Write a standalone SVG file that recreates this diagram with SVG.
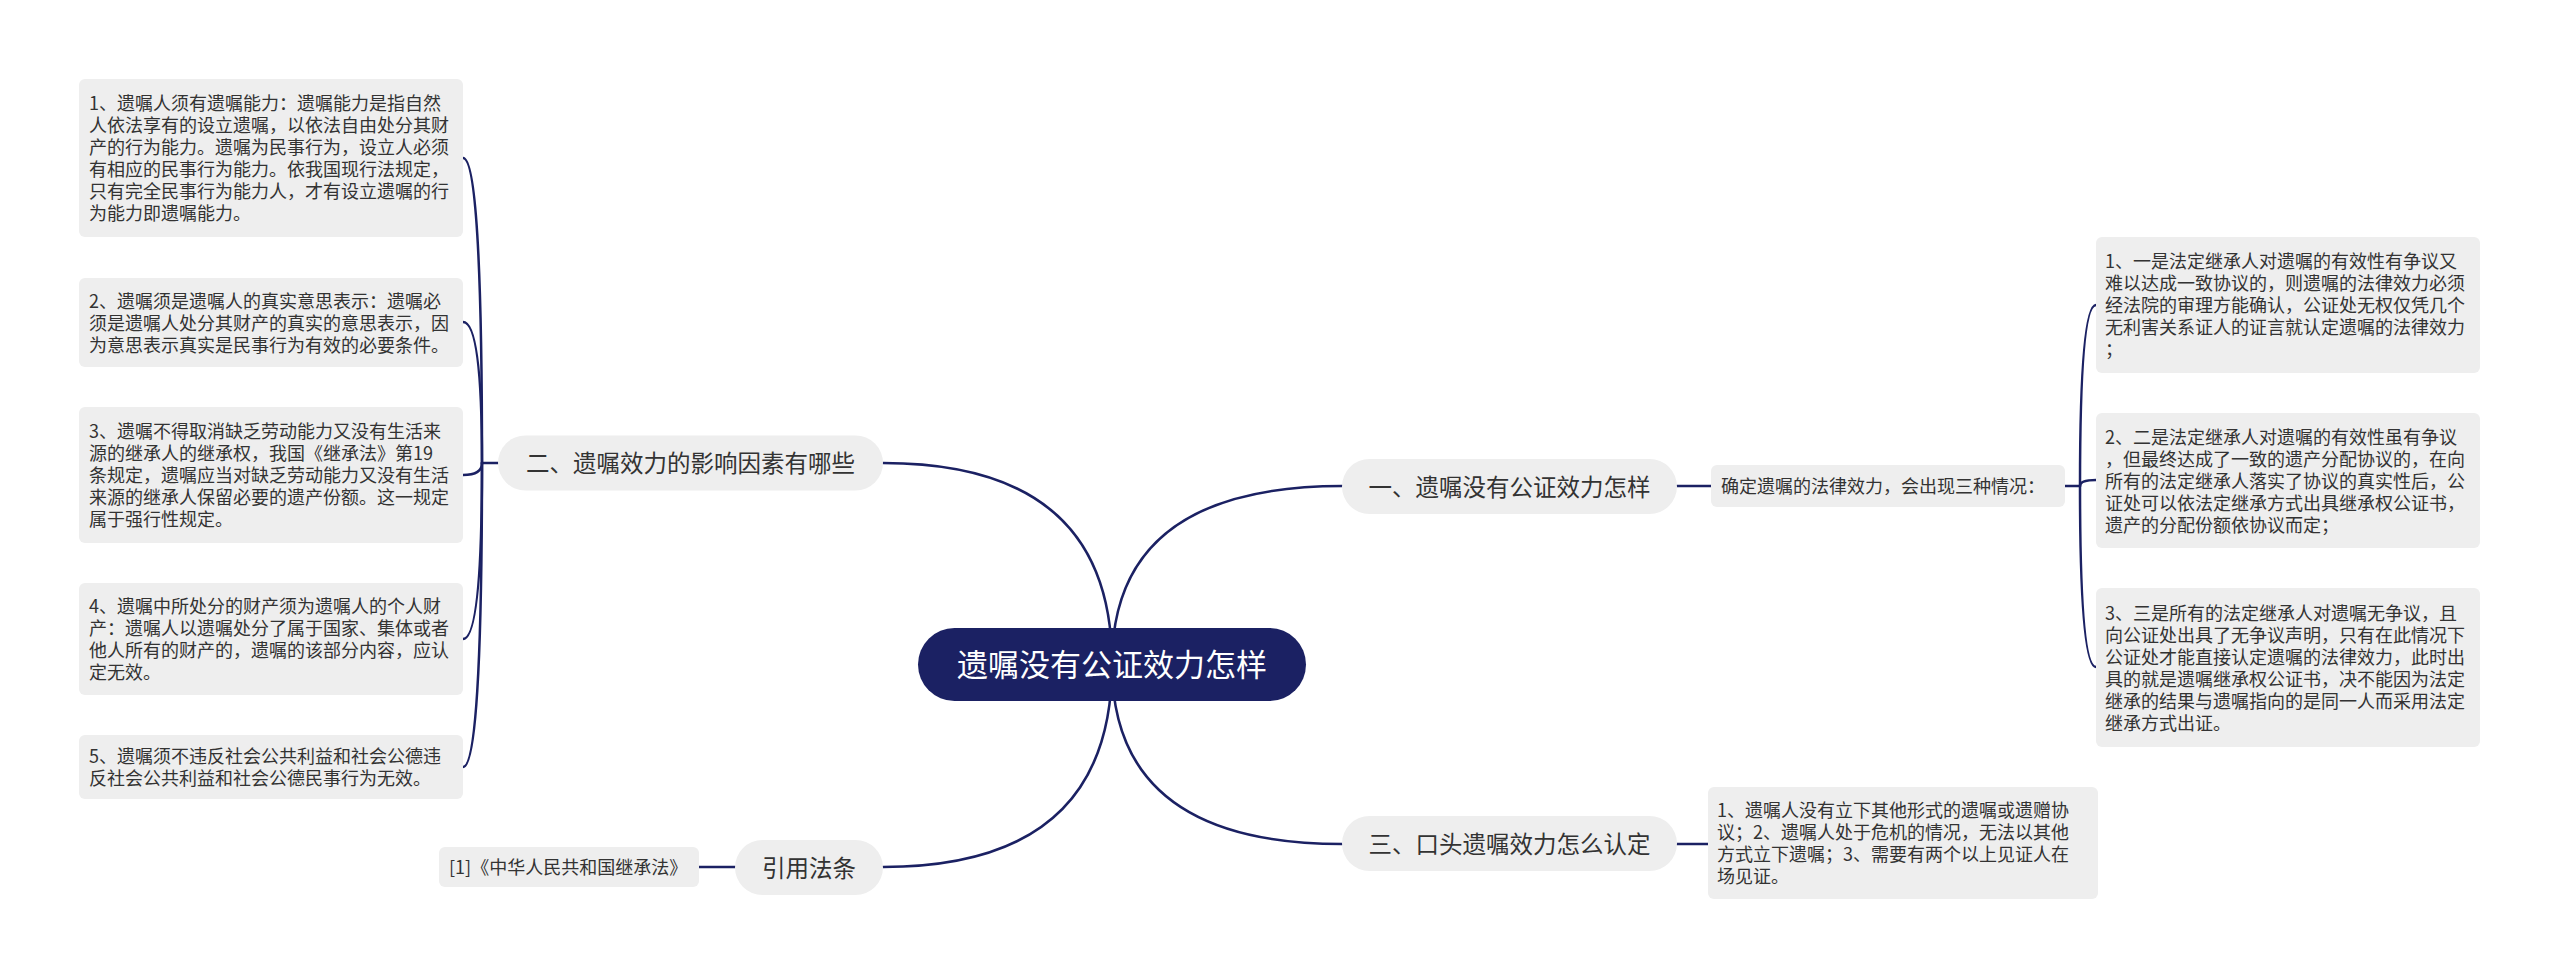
<svg xmlns="http://www.w3.org/2000/svg" width="2560" height="979" viewBox="0 0 2560 979">
<style>
.bg{fill:#ffffff}
.edge{fill:none;stroke:#1b2163;stroke-width:2.5;stroke-linecap:round}
.pill{fill:#eeeeee}
.box{fill:#eeeeee}
.root{fill:#1b2163}
.t{font-family:"Noto Sans CJK SC","Noto Sans",sans-serif;fill:#333333}
.tb{font-size:18px}
.tm{font-size:23.5px}
.tr{font-size:31px;fill:#ffffff}
</style>
<rect class="bg" x="0" y="0" width="2560" height="979"/>
<g id="connectors">
<path class="edge" d="M1112 664 Q1112 463 883 463"/>
<path class="edge" d="M1112 664 Q1112 486 1342 486"/>
<path class="edge" d="M1112 664 Q1112 844 1342 844"/>
<path class="edge" d="M1112 664 Q1112 867 883 867"/>
<path class="edge" d="M498 463 L482 463"/>
<path class="edge" d="M482 463 Q482 158 463 158"/>
<path class="edge" d="M482 463 Q482 322 463 322"/>
<path class="edge" d="M482 463 Q482 475 463 475"/>
<path class="edge" d="M482 463 Q482 639 463 639"/>
<path class="edge" d="M482 463 Q482 767 463 767"/>
<path class="edge" d="M2065 486 L2080 486"/>
<path class="edge" d="M2080 486 Q2080 305 2096 305"/>
<path class="edge" d="M2080 486 Q2080 480 2096 480"/>
<path class="edge" d="M2080 486 Q2080 667 2096 667"/>
<path class="edge" d="M1677 486 L1711 486"/>
<path class="edge" d="M1677 844 L1708 844"/>
<path class="edge" d="M699 867 L735 867"/>
</g>
<g id="root">
<rect class="root" x="918" y="628" width="388" height="73" rx="36.5"/>
<text class="t tr" x="1112" y="676" text-anchor="middle">遗嘱没有公证效力怎样</text>
</g>
<g id="n2">
<rect class="pill" x="498" y="435.5" width="385" height="55" rx="27.5"/>
<text class="t tm" x="690.5" y="472" text-anchor="middle">二、遗嘱效力的影响因素有哪些</text>
</g>
<g id="n1">
<rect class="pill" x="1342" y="459" width="335" height="55" rx="27.5"/>
<text class="t tm" x="1509.5" y="495.5" text-anchor="middle">一、遗嘱没有公证效力怎样</text>
</g>
<g id="n3">
<rect class="pill" x="1342" y="816" width="335" height="55" rx="27.5"/>
<text class="t tm" x="1509.5" y="852.5" text-anchor="middle">三、口头遗嘱效力怎么认定</text>
</g>
<g id="n4">
<rect class="pill" x="735" y="840" width="148" height="55" rx="27.5"/>
<text class="t tm" x="809" y="876.5" text-anchor="middle">引用法条</text>
</g>
<g id="l1">
<rect class="box" x="79" y="79" width="384" height="158" rx="6"/>
<text class="t tb" x="89">
<tspan x="89" y="110">1、遗嘱人须有遗嘱能力：遗嘱能力是指自然</tspan>
<tspan x="89" y="132">人依法享有的设立遗嘱，以依法自由处分其财</tspan>
<tspan x="89" y="154">产的行为能力。遗嘱为民事行为，设立人必须</tspan>
<tspan x="89" y="176">有相应的民事行为能力。依我国现行法规定，</tspan>
<tspan x="89" y="198">只有完全民事行为能力人，才有设立遗嘱的行</tspan>
<tspan x="89" y="220">为能力即遗嘱能力。</tspan>
</text>
</g>
<g id="l2">
<rect class="box" x="79" y="278" width="384" height="89" rx="6"/>
<text class="t tb">
<tspan x="89" y="307.5">2、遗嘱须是遗嘱人的真实意思表示：遗嘱必</tspan>
<tspan x="89" y="329.5">须是遗嘱人处分其财产的真实的意思表示，因</tspan>
<tspan x="89" y="351.5">为意思表示真实是民事行为有效的必要条件。</tspan>
</text>
</g>
<g id="l3">
<rect class="box" x="79" y="407" width="384" height="136" rx="6"/>
<text class="t tb">
<tspan x="89" y="438">3、遗嘱不得取消缺乏劳动能力又没有生活来</tspan>
<tspan x="89" y="460">源的继承人的继承权，我国《继承法》第19</tspan>
<tspan x="89" y="482">条规定，遗嘱应当对缺乏劳动能力又没有生活</tspan>
<tspan x="89" y="504">来源的继承人保留必要的遗产份额。这一规定</tspan>
<tspan x="89" y="526">属于强行性规定。</tspan>
</text>
</g>
<g id="l4">
<rect class="box" x="79" y="583" width="384" height="112" rx="6"/>
<text class="t tb">
<tspan x="89" y="613">4、遗嘱中所处分的财产须为遗嘱人的个人财</tspan>
<tspan x="89" y="635">产：遗嘱人以遗嘱处分了属于国家、集体或者</tspan>
<tspan x="89" y="657">他人所有的财产的，遗嘱的该部分内容，应认</tspan>
<tspan x="89" y="679">定无效。</tspan>
</text>
</g>
<g id="l5">
<rect class="box" x="79" y="735" width="384" height="64" rx="6"/>
<text class="t tb">
<tspan x="89" y="763">5、遗嘱须不违反社会公共利益和社会公德违</tspan>
<tspan x="89" y="785">反社会公共利益和社会公德民事行为无效。</tspan>
</text>
</g>
<g id="cite">
<rect class="box" x="439" y="847" width="260" height="40" rx="6"/>
<text class="t tb" x="449" y="874">[1]《中华人民共和国继承法》</text>
</g>
<g id="m1">
<rect class="box" x="1711" y="465" width="354" height="42" rx="6"/>
<text class="t tb" x="1721" y="493">确定遗嘱的法律效力，会出现三种情况：</text>
</g>
<g id="r1">
<rect class="box" x="2096" y="237" width="384" height="136" rx="6"/>
<text class="t tb">
<tspan x="2105" y="268">1、一是法定继承人对遗嘱的有效性有争议又</tspan>
<tspan x="2105" y="290">难以达成一致协议的，则遗嘱的法律效力必须</tspan>
<tspan x="2105" y="312">经法院的审理方能确认，公证处无权仅凭几个</tspan>
<tspan x="2105" y="334">无利害关系证人的证言就认定遗嘱的法律效力</tspan>
<tspan x="2105" y="356">；</tspan>
</text>
</g>
<g id="r2">
<rect class="box" x="2096" y="413" width="384" height="135" rx="6"/>
<text class="t tb">
<tspan x="2105" y="443.5">2、二是法定继承人对遗嘱的有效性虽有争议</tspan>
<tspan x="2105" y="465.5">，但最终达成了一致的遗产分配协议的，在向</tspan>
<tspan x="2105" y="487.5">所有的法定继承人落实了协议的真实性后，公</tspan>
<tspan x="2105" y="509.5">证处可以依法定继承方式出具继承权公证书，</tspan>
<tspan x="2105" y="531.5">遗产的分配份额依协议而定；</tspan>
</text>
</g>
<g id="r3">
<rect class="box" x="2096" y="588" width="384" height="159" rx="6"/>
<text class="t tb">
<tspan x="2105" y="619.5">3、三是所有的法定继承人对遗嘱无争议，且</tspan>
<tspan x="2105" y="641.5">向公证处出具了无争议声明，只有在此情况下</tspan>
<tspan x="2105" y="663.5">公证处才能直接认定遗嘱的法律效力，此时出</tspan>
<tspan x="2105" y="685.5">具的就是遗嘱继承权公证书，决不能因为法定</tspan>
<tspan x="2105" y="707.5">继承的结果与遗嘱指向的是同一人而采用法定</tspan>
<tspan x="2105" y="729.5">继承方式出证。</tspan>
</text>
</g>
<g id="m3">
<rect class="box" x="1708" y="787" width="390" height="112" rx="6"/>
<text class="t tb">
<tspan x="1717" y="817">1、遗嘱人没有立下其他形式的遗嘱或遗赠协</tspan>
<tspan x="1717" y="839">议；2、遗嘱人处于危机的情况，无法以其他</tspan>
<tspan x="1717" y="861">方式立下遗嘱；3、需要有两个以上见证人在</tspan>
<tspan x="1717" y="883">场见证。</tspan>
</text>
</g>
</svg>
